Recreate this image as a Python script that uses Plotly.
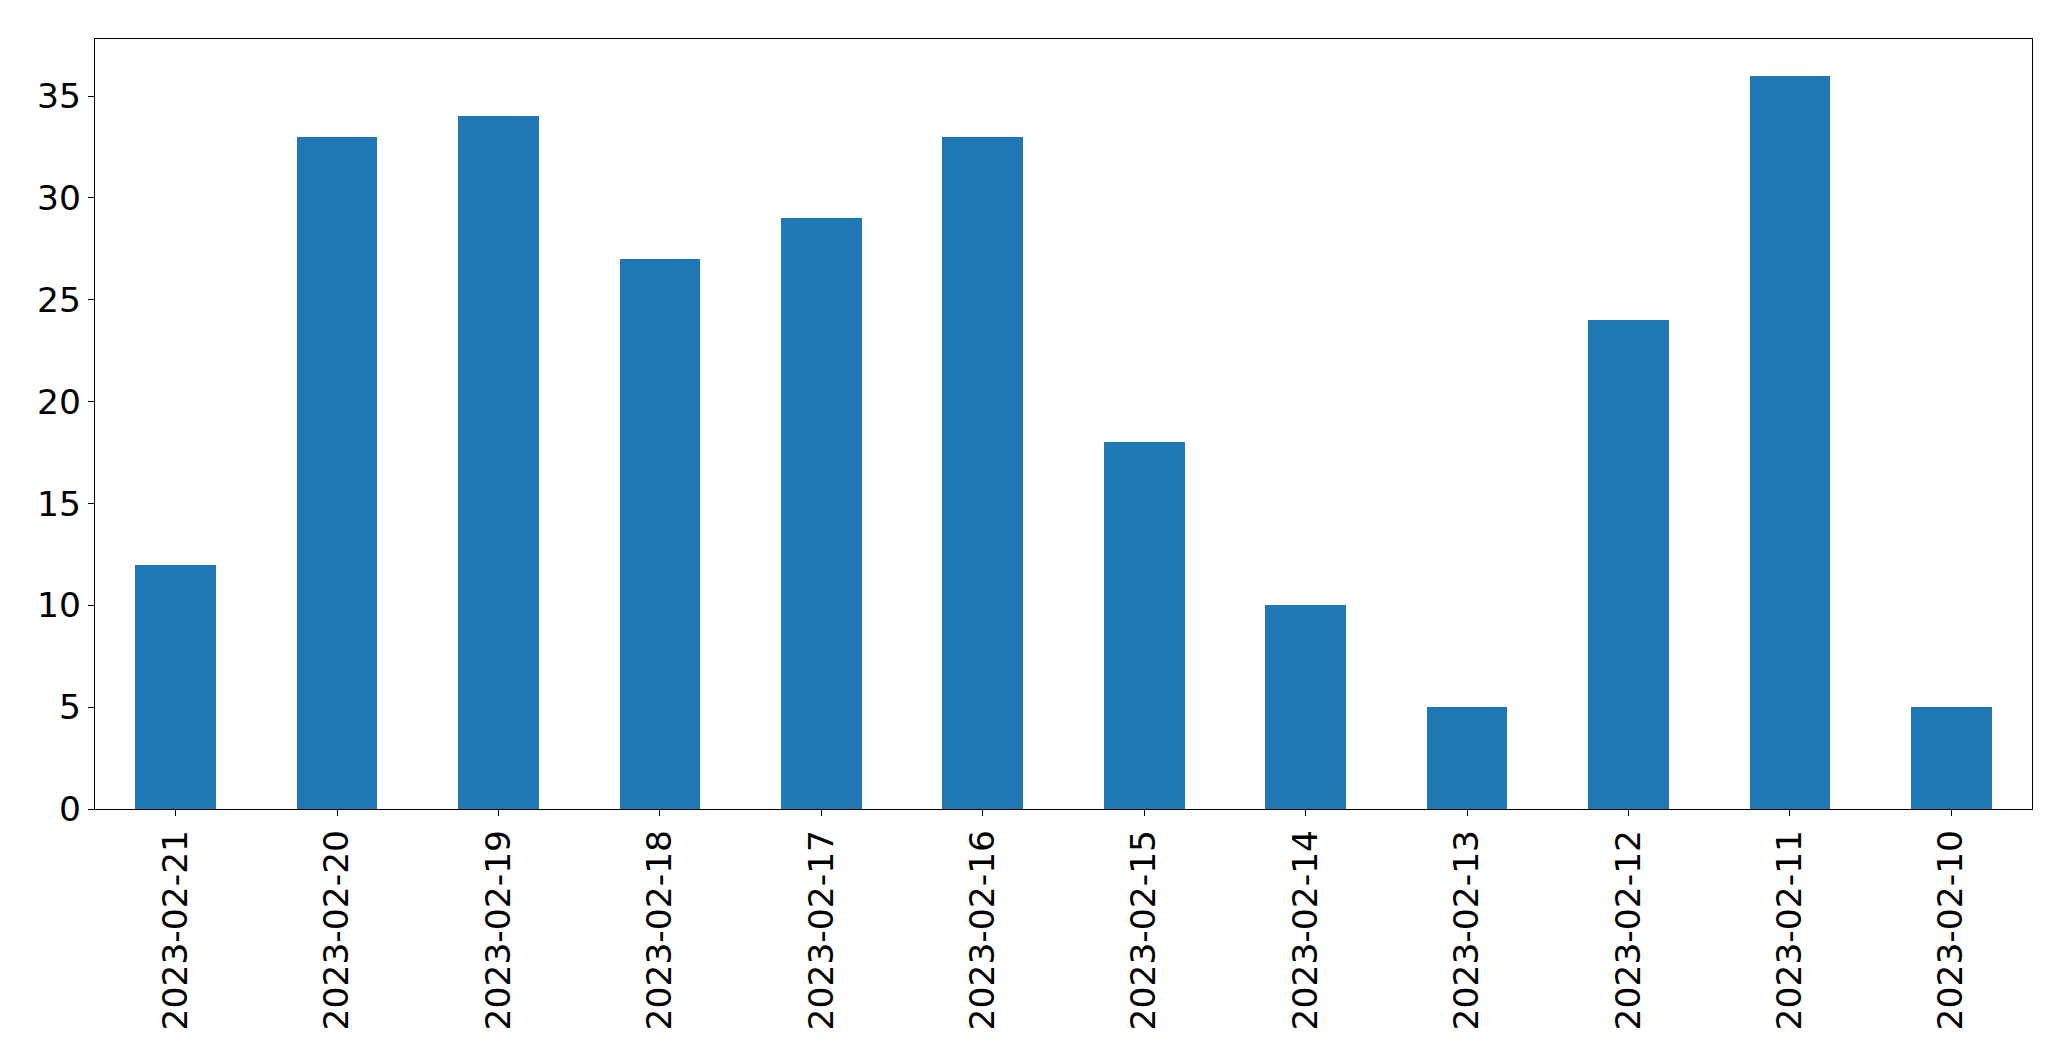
import plotly.graph_objects as go

dates = ["2023-02-21", "2023-02-20", "2023-02-19", "2023-02-18", "2023-02-17", "2023-02-16",
         "2023-02-15", "2023-02-14", "2023-02-13", "2023-02-12", "2023-02-11", "2023-02-10"]
counts = [12, 33, 34, 27, 29, 33, 18, 10, 5, 24, 36, 5]
y_ticks = [0, 5, 10, 15, 20, 25, 30, 35]

fig = go.Figure(go.Bar(x=dates, y=counts, width=0.5, marker=dict(color="#1f77b4", line=dict(width=0))))

axis_common = dict(showline=True, linecolor="black", linewidth=1.3, mirror=True,
                   ticks="outside", ticklen=6, tickwidth=1.3, tickcolor="black",
                   showgrid=False, zeroline=False,
                   tickfont=dict(family="DejaVu Sans", size=34.5, color="black"))

fig.update_layout(
    width=2071, height=1061,
    margin=dict(l=87, r=47, t=31, b=260, autoexpand=False),
    paper_bgcolor="white", plot_bgcolor="white",
    showlegend=False,
    bargap=0,
    xaxis=dict(type="category", range=[-0.5, 11.5], tickangle=-90, **axis_common),
    yaxis=dict(range=[0, 37.8], tickvals=y_ticks, **axis_common),
)

fig.write_html("out.html")
